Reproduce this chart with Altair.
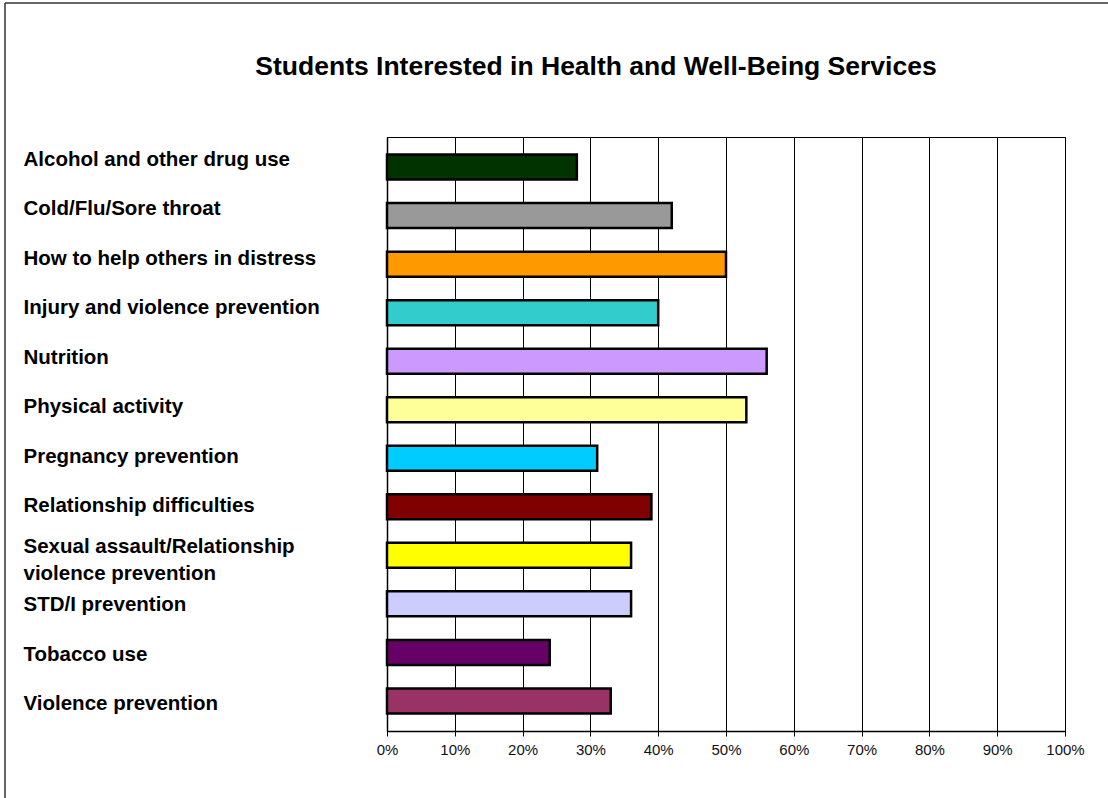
import altair as alt
import pandas as pd

categories = [
    "Alcohol and other drug use",
    "Cold/Flu/Sore throat",
    "How to help others in distress",
    "Injury and violence prevention",
    "Nutrition",
    "Physical activity",
    "Pregnancy prevention",
    "Relationship difficulties",
    "Sexual assault/Relationship|violence prevention",
    "STD/I prevention",
    "Tobacco use",
    "Violence prevention",
]
values = [28, 42, 50, 40, 56, 53, 31, 39, 36, 36, 24, 33]
colors = [
    "#003300", "#999999", "#FF9900", "#33CCCC", "#CC99FF", "#FFFF99",
    "#00CCFF", "#800000", "#FFFF00", "#CCCCFF", "#660066", "#993366",
]
tick_values = [0, 10, 20, 30, 40, 50, 60, 70, 80, 90, 100]
title_text = "Students Interested in Health and Well-Being Services"

df = pd.DataFrame({"category": categories, "value": values, "color": colors})

FONT = "Liberation Sans"

x_axis = alt.Axis(
    values=tick_values,
    labelExpr="datum.value + '%'",
    title=None,
    grid=True,
    gridColor="#000000",
    gridWidth=1,
    gridOpacity=1,
    domainColor="#000000",
    domainWidth=1.5,
    tickColor="#000000",
    tickSize=5,
    labelFontSize=15,
    labelFont=FONT,
    labelColor="#111111",
    labelAlign="center",
    labelBaseline="top",
    labelFlush=False,
    labelPadding=6,
)

labels = alt.Chart(df).mark_bar(opacity=0).encode(
    x=alt.X("value:Q", scale=alt.Scale(domain=[0, 100], nice=False), axis=x_axis),
    y=alt.Y(
        "category:N",
        sort=categories,
        scale=alt.Scale(paddingInner=0, paddingOuter=0),
        axis=alt.Axis(
            title=None,
            ticks=False,
            tickSize=0,
            domain=True,
            domainColor="#000000",
            domainWidth=1.5,
            labelAlign="left",
            labelBaseline="middle",
            labelPadding=364,
            labelLimit=360,
            labelFontSize=20.5,
            labelFontWeight="bold",
            labelFont=FONT,
            labelColor="#000000",
            labelOffset={
                "condition": {"test": "indexof(datum.value, '|') >= 0", "value": -11},
                "value": -2,
            },
            labelLineHeight=27,
            labelExpr="split(datum.label, '|')",
        ),
    ),
)

bars = alt.Chart(df).mark_bar(stroke="#000000", strokeWidth=2.5).encode(
    x=alt.X("value:Q", scale=alt.Scale(domain=[0, 100], nice=False), title=None),
    y=alt.Y(
        "category:N",
        sort=categories,
        scale=alt.Scale(paddingInner=0.485, paddingOuter=0.3625),
        axis=None,
    ),
    color=alt.Color("color:N", scale=None),
)

frame_df = pd.DataFrame({"k": [0]})
frame_left = alt.Chart(frame_df).mark_rule(color="#333333", strokeWidth=1.5).encode(
    x=alt.value(-382), y=alt.value(-134), y2=alt.value(700)
)
frame_top = alt.Chart(frame_df).mark_rule(color="#333333", strokeWidth=1.5).encode(
    x=alt.value(-382), x2=alt.value(760), y=alt.value(-134)
)

chart = (
    alt.layer(labels, bars, frame_left, frame_top)
    .resolve_scale(y="independent")
    .properties(
        width=678,
        height=594,
        background="#ffffff",
        autosize=alt.AutoSizeParams(type="none"),
        padding={"left": 387, "top": 137, "right": 43, "bottom": 67},
        title=alt.TitleParams(
            text=title_text,
            fontSize=26.5,
            font=FONT,
            fontWeight="bold",
            color="#000000",
            anchor="middle",
            baseline="alphabetic",
            dx=-130,
            offset=-99,
        ),
    )
    .configure_view(stroke="#000000", strokeWidth=1)
)

chart.save("out.html", embed_options={"renderer": "svg", "actions": False})
